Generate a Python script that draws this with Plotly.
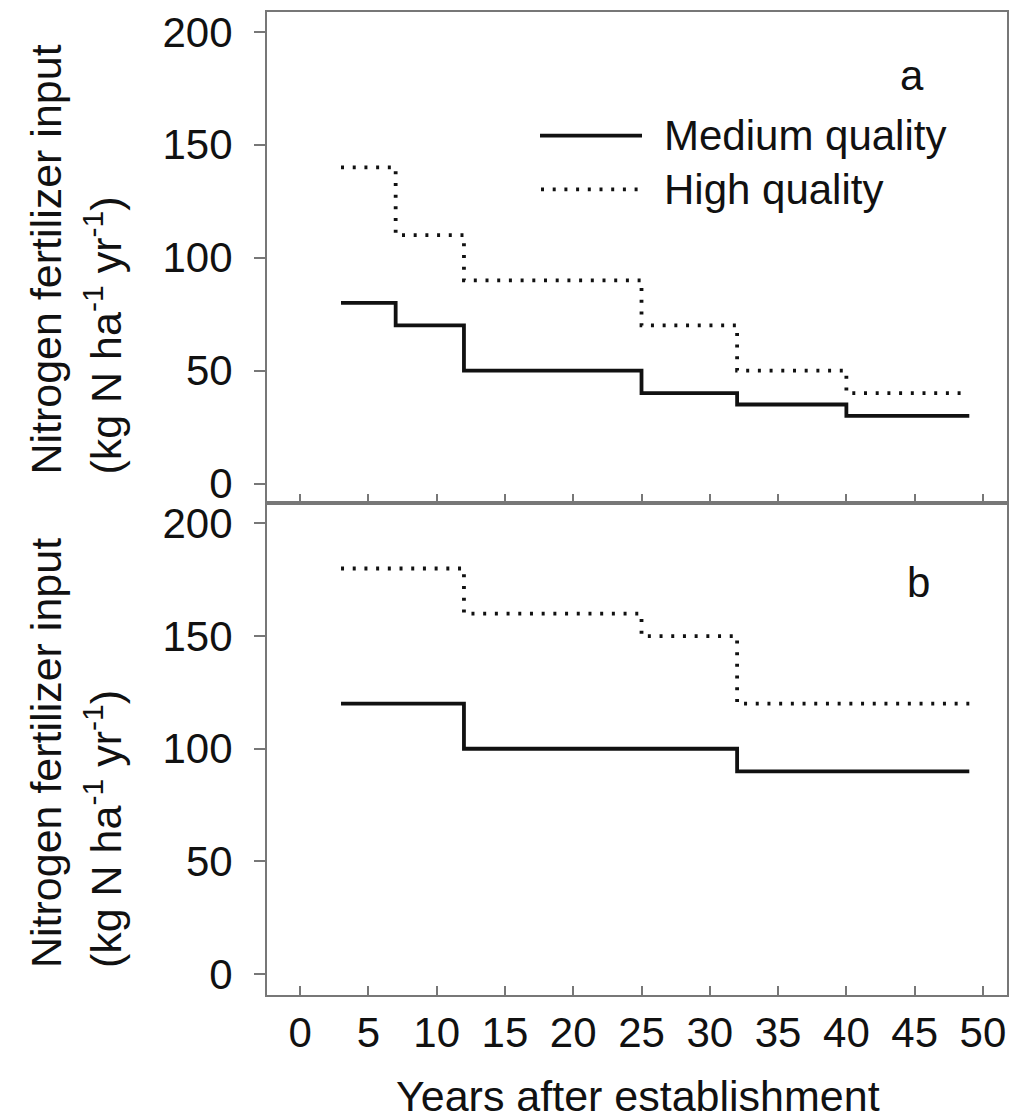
import plotly.graph_objects as go

# ---- data ----
top_medium_x = [3, 7, 12, 25, 32, 40, 49]
top_medium_y = [80, 70, 50, 40, 35, 30, 30]
top_high_x = [3, 7, 12, 25, 32, 40, 49]
top_high_y = [140, 110, 90, 70, 50, 40, 40]

bot_medium_x = [3, 12, 32, 49]
bot_medium_y = [120, 100, 90, 90]
bot_high_x = [3, 12, 25, 32, 49]
bot_high_y = [180, 160, 150, 120, 120]

x_ticks = [0, 5, 10, 15, 20, 25, 30, 35, 40, 45, 50]
y_ticks = [0, 50, 100, 150, 200]

series_names = ["Medium quality", "High quality"]
panel_labels = ["a", "b"]
x_title = "Years after establishment"
y_title_1 = "Nitrogen fertilizer input"
y_title_2 = "(kg N ha<sup>-1</sup> yr<sup>-1</sup>)"

# ---- layout constants ----
W, H = 1025, 1120
L, R, T, B = 267, 1007, 9, 995
FONT = "Liberation Sans, Arial, sans-serif"
FS = 42
FST = 43
AXC = "#777777"
LINEC = "#111111"
TXT = "#111111"
DOT = "3px,8.7px"

def px(xp):
    return (xp - L) / (R - L)

def py(yp):
    return (B - yp) / (B - T)

split = py(501)

fig = go.Figure()

solid = dict(color=LINEC, width=3.8)
dotted = dict(color=LINEC, width=3.8, dash=DOT)

fig.add_trace(go.Scatter(x=top_medium_x, y=top_medium_y, mode="lines", line=solid,
                         line_shape="hv", xaxis="x2", yaxis="y2", showlegend=False))
fig.add_trace(go.Scatter(x=top_high_x, y=top_high_y, mode="lines", line=dotted,
                         line_shape="hv", xaxis="x2", yaxis="y2", showlegend=False))
fig.add_trace(go.Scatter(x=bot_medium_x, y=bot_medium_y, mode="lines", line=solid,
                         line_shape="hv", xaxis="x", yaxis="y", showlegend=False))
fig.add_trace(go.Scatter(x=bot_high_x, y=bot_high_y, mode="lines", line=dotted,
                         line_shape="hv", xaxis="x", yaxis="y", showlegend=False))

xr = [-2.42, 51.76]
common_x = dict(range=xr, tickvals=x_ticks, ticks="inside", ticklen=9, tickwidth=2,
                tickcolor=AXC, showline=True, linecolor=AXC, linewidth=2, mirror=True,
                showgrid=False, zeroline=False)
common_y = dict(tickvals=y_ticks, ticks="outside", ticklen=11, tickwidth=2,
                tickcolor=AXC, showline=True, linecolor=AXC, linewidth=2, mirror=True,
                showgrid=False, zeroline=False, ticklabelstandoff=13,
                tickfont=dict(family=FONT, size=FS, color=TXT))

fig.update_layout(
    width=W, height=H,
    margin=dict(l=L, r=W - R, t=T, b=H - B),
    paper_bgcolor="white", plot_bgcolor="white",
    font=dict(family=FONT, size=FS, color=TXT),
    xaxis=dict(**common_x, anchor="y", domain=[0, 1], showticklabels=True,
               ticklabelstandoff=0, tickfont=dict(family=FONT, size=FS, color=TXT)),
    xaxis2=dict(**common_x, anchor="y2", matches="x", showticklabels=False),
    yaxis=dict(**common_y, domain=[0, split], range=[-9.3, 209.3], anchor="x"),
    yaxis2=dict(**common_y, domain=[split, 1], range=[-8.4, 208.8], anchor="x2"),
    showlegend=False,
)

ann = []
# axis titles
ann.append(dict(text=x_title, x=px(638), y=py(1096), xref="paper", yref="paper",
                xanchor="center", yanchor="middle", showarrow=False,
                font=dict(family=FONT, size=FST, color=TXT)))
for ybot in (475, 970):
    ann.append(dict(text=y_title_1, x=px(46), y=py(ybot), xref="paper", yref="paper",
                    xanchor="center", yanchor="bottom", textangle=-90, showarrow=False,
                    font=dict(family=FONT, size=FST, color=TXT)))
    ann.append(dict(text=y_title_2, x=px(103), y=py(ybot), xref="paper", yref="paper",
                    xanchor="center", yanchor="bottom", textangle=-90, showarrow=False,
                    font=dict(family=FONT, size=FST, color=TXT)))
# panel labels
ann.append(dict(text=panel_labels[0], x=px(912), y=py(73), xref="paper", yref="paper",
                xanchor="center", yanchor="middle", showarrow=False,
                font=dict(family=FONT, size=FS, color=TXT)))
ann.append(dict(text=panel_labels[1], x=px(918), y=py(581), xref="paper", yref="paper",
                xanchor="center", yanchor="middle", showarrow=False,
                font=dict(family=FONT, size=FS, color=TXT)))
# legend
for name, yy in zip(series_names, (133, 187)):
    ann.append(dict(text=name, x=px(662), y=py(yy), xref="paper", yref="paper",
                    xanchor="left", yanchor="middle", showarrow=False,
                    font=dict(family=FONT, size=FS, color=TXT)))
fig.update_layout(annotations=ann)

shapes = [
    dict(type="line", xref="paper", yref="paper", x0=px(540), x1=px(642),
         y0=py(133), y1=py(133), line=dict(color=LINEC, width=3.8)),
    dict(type="line", xref="paper", yref="paper", x0=px(541), x1=px(640),
         y0=py(187), y1=py(187), line=dict(color=LINEC, width=3.8, dash=DOT)),
]
fig.update_layout(shapes=shapes)

fig.write_html("out.html")
